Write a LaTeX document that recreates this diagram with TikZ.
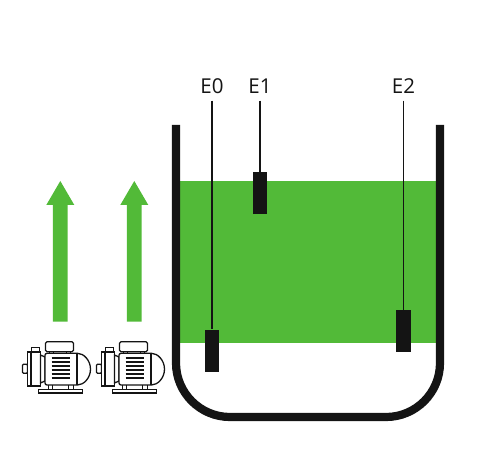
\documentclass[tikz,border=0pt]{standalone}
\usepackage{fontspec}
\setmainfont{Open Sans}
\usepackage{xcolor}
\usetikzlibrary{positioning}
\definecolor{fluid}{HTML}{52BA38}
\definecolor{ink}{HTML}{141414}
\tikzset{
  probe/.style={fill=ink, minimum width=14.6pt, minimum height=42pt, inner sep=0pt},
  tag/.style={font=\fontsize{20.5pt}{20.5pt}\selectfont, text=ink, inner sep=0pt, minimum height=29pt},
  wire/.style={draw=ink, line width=1.2pt},
  pumpline/.style={draw=ink, line width=1.3pt},
  pumpunit/.pic={
    % local origin is the left end of the inlet stub, pixel units
    \draw[pumpline, fill=white, rounded corners=1pt] (0,-4.7) rectangle (5,4.3);
    \draw[pumpline, fill=white] (5,-17) rectangle (18,17);
    \draw[pumpline] (8.5,-17) -- (8.5,17);
    \draw[pumpline, fill=white] (9,-21.7) rectangle (17,-17);
    \draw[pumpline, fill=white] (18,-14) -- (22.5,-12) -- (22.5,12) -- (18,14) -- cycle;
    \draw[pumpline, fill=white, rounded corners=2pt] (22.5,-15.7) -- (53,-15.7) arc[start angle=90, end angle=-90, x radius=15, y radius=-15.85] -- (22.5,16) -- cycle;
    \draw[pumpline, fill=white, rounded corners=1.5pt] (23,-27.3) rectangle (51,-17.3);
    \draw[pumpline] (27,-17.3) -- (27,-15.7) (31,-17.3) -- (31,-15.7) (44,-17.3) -- (44,-15.7) (48,-17.3) -- (48,-15.7);
    \draw[pumpline] (54.5,-15.7) -- (54.5,16);
    \foreach \y in {-11,-7,...,9} \draw[pumpline] (29,\y) -- (47,\y);
    \draw[pumpline] (26,16) -- (26,20) (30,16) -- (30,20) (46,16) -- (46,20) (51,16) -- (51,20);
    \draw[pumpline, fill=white] (16,20.3) rectangle (60,24);
  }
}
\begin{document}
\begin{tikzpicture}[x=1pt, y=-1pt]
\useasboundingbox (0,0) rectangle (479,462);
\fill[fluid] (180,181) rectangle (436,343);
% tank
\draw[draw=ink, line width=8.2pt] (176,125) -- (176,363) arc[start angle=180, end angle=270, x radius=54, y radius=-54] -- (386,417) arc[start angle=270, end angle=360, x radius=54, y radius=-54] -- (440,125);
% probes
\node[probe] (probe0) at (212,350.5) {};
\node[probe] (probe1) at (260,193) {};
\node[probe] (probe2) at (403.5,331) {};
\node[tag] (tag0) at (212,86) {E0};
\node[tag] (tag1) at (260,86) {E1};
\node[tag] (tag2) at (403.5,86) {E2};
\foreach \n in {0,1,2}
  \draw[wire] (tag\n.south) -- (probe\n.north);
% flow arrows
\foreach \x in {60.3,134.3}
  \fill[fluid] (\x,181) -- ++(14,24) -- ++(-6.65,0) -- ++(0,116.7) -- ++(-14.7,0) -- ++(0,-116.7) -- ++(-6.65,0) -- cycle;
% pumps
\pic at (22.5,369) {pumpunit};
\pic at (96.5,369) {pumpunit};
\end{tikzpicture}
\end{document}
